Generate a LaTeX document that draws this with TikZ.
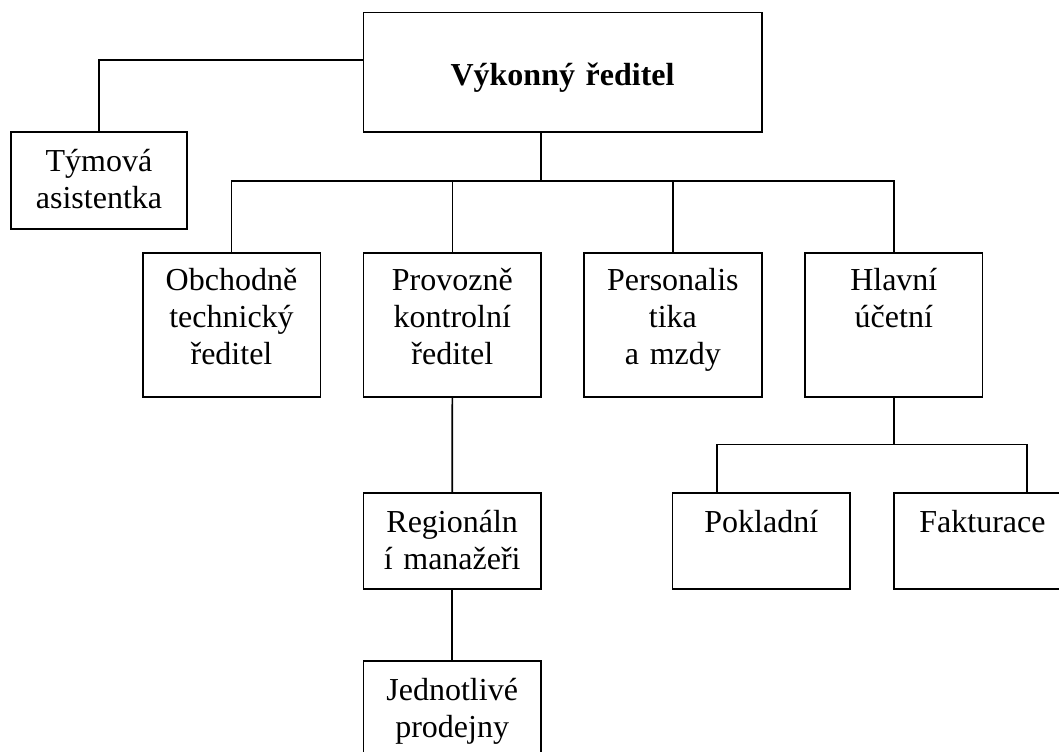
\documentclass[tikz,border=0pt]{standalone}
\usepackage{fontspec}
\setmainfont{Liberation Serif}
\usetikzlibrary{calc}
\begin{document}
\begin{tikzpicture}[x=0.5pt,y=-0.5pt,
  line width=0.8pt,
  boxnode/.style={draw,line width=0.8pt,inner sep=0pt,minimum width=#1},
  boxnode/.default={88.8pt},
  lbl/.style={inner sep=0pt,align=center,text width=86pt,anchor=base,
    font=\fontsize{16}{18.35}\selectfont},
  conn/.style={draw,line width=0.8pt}]
\useasboundingbox (0,0) rectangle (1059,751);
\clip (0,0) rectangle (1059,751);
% boxes
\node[boxnode=199.1pt,minimum height=59.75pt] (ceo) at (562.6,72.25) {};
\node[boxnode=88pt,minimum height=48.5pt] (tym) at (99,180.5) {};
\node[boxnode,minimum height=72pt] (ot) at (231.5,324.7) {};
\node[boxnode,minimum height=72pt] (pk) at (452.3,324.7) {};
\node[boxnode,minimum height=72pt] (pm) at (672.9,324.7) {};
\node[boxnode,minimum height=72pt] (hu) at (893.8,324.7) {};
\node[boxnode,minimum height=48.15pt] (rm) at (452.2,540.85) {};
\node[boxnode,minimum height=48.15pt] (jp) at (452.2,708.85) {};
\node[boxnode,minimum height=48.15pt] (pok) at (761.3,540.85) {};
\node[boxnode,minimum height=48.15pt] (fak) at (982.5,540.85) {};
% texts
\node[lbl,text width=190pt] (tceo) at ($(ceo.north)+(0,73.5)$) {\bfseries Výkonný ředitel};
\node[lbl] (ttym) at ($(tym.north)+(0,40.3)$) {Týmová\\asistentka};
\node[lbl] (tot) at ($(ot.north)+(0,39)$) {Obchodně\\technický\\ředitel};
\node[lbl] (tpk) at ($(pk.north)+(0,39)$) {Provozně\\kontrolní\\ředitel};
\node[lbl] (tpm) at ($(pm.north)+(0,39)$) {Personalis\\tika\\a mzdy};
\node[lbl] (thu) at ($(hu.north)+(0,39)$) {Hlavní\\účetní};
\node[lbl] (trm) at ($(rm.north)+(0,40.6)$) {Regionáln\\í manažeři};
\node[lbl] (tjp) at ($(jp.north)+(0,41)$) {Jednotlivé\\prodejny};
\node[lbl] (tpok) at ($(pok.north)+(0,40.3)$) {Pokladní};
\node[lbl] (tfak) at ($(fak.north)+(0,40.3)$) {Fakturace};
% connectors
\coordinate (tj) at (99,60);
\draw (ceo.west |- tj) -- (tj) -- (tym.north);
\coordinate (bus) at (540.7,180.7);
\draw (ceo.south -| bus) -- (bus);
\draw (ot.north) |- (hu.north |- bus) -- (hu.north);
\draw (pk.north) -- (pk.north |- bus);
\draw (pm.north) -- (pm.north |- bus);
\draw (pk.south) -- (rm.north);
\draw (rm.south) -- (jp.north);
\coordinate (al) at (717,444.3);
\coordinate (ar) at (1026.7,444.3);
\draw (hu.south) -- (hu.south |- al);
\draw (pok.north -| al) -- (al) -- (ar) -- (fak.north -| ar);
\end{tikzpicture}
\end{document}
